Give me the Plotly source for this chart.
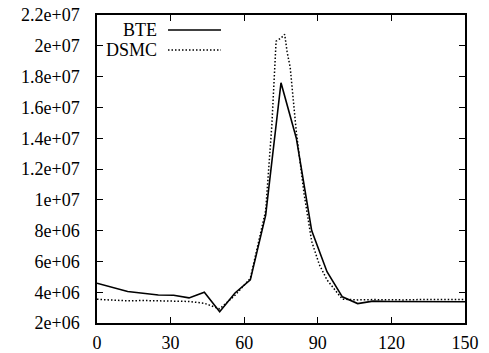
import plotly.graph_objects as go

# ---- data ----
bte_x = [0, 6.25, 12.5, 18.75, 25, 31.25, 37.5, 43.75, 50, 56.25, 62.5, 68.75, 75,
         81.25, 87.5, 93.75, 100, 106.25, 112.5, 118.75, 125, 131.25, 137.5, 143.75, 150]
bte_y = [4.58e6, 4.32e6, 4.05e6, 3.93e6, 3.82e6, 3.80e6, 3.63e6, 4.00e6, 2.73e6, 3.95e6,
         4.80e6, 9.0e6, 17.6e6, 14.0e6, 8.0e6, 5.33e6, 3.70e6, 3.26e6, 3.42e6, 3.40e6,
         3.39e6, 3.39e6, 3.38e6, 3.38e6, 3.38e6]

dsmc_x = [0, 6.25, 12.5, 18.75, 25, 31.25, 37.5, 43.75, 50, 56.25, 62.5, 68.75, 71.25,
          73, 75, 76.5, 77.5, 78.75, 81.25, 84.4, 87.5, 90.6, 93.75, 100, 106.25, 112.5,
          118.75, 125, 131.25, 137.5, 143.75, 150]
dsmc_y = [3.54e6, 3.50e6, 3.44e6, 3.46e6, 3.45e6, 3.44e6, 3.40e6, 3.28e6, 2.92e6, 3.80e6,
          4.90e6, 9.3e6, 14.8e6, 20.3e6, 20.5e6, 20.75e6, 19.6e6, 18.6e6, 14.4e6, 10.4e6,
          7.3e6, 5.8e6, 4.8e6, 3.55e6, 3.50e6, 3.52e6, 3.50e6, 3.50e6, 3.52e6, 3.50e6,
          3.52e6, 3.53e6]

x_ticks = [0, 30, 60, 90, 120, 150]
y_ticks = [2e6, 4e6, 6e6, 8e6, 1e7, 1.2e7, 1.4e7, 1.6e7, 1.8e7, 2e7, 2.2e7]
y_ticklabels = ["2e+06", "4e+06", "6e+06", "8e+06", "1e+07", "1.2e+07", "1.4e+07",
                "1.6e+07", "1.8e+07", "2e+07", "2.2e+07"]
series_names = ["BTE", "DSMC"]

FONT = "Liberation Serif"
FS = 18

fig = go.Figure()
fig.add_trace(go.Scatter(x=bte_x, y=bte_y, mode="lines", name=series_names[0],
                         line=dict(color="black", width=1.6), showlegend=False))
fig.add_trace(go.Scatter(x=dsmc_x, y=dsmc_y, mode="lines", name=series_names[1],
                         line=dict(color="black", width=1.5, dash="1.5px,2px"),
                         showlegend=False))

# gnuplot-style key: right-aligned text with sample line to its right
key_rows = [(series_names[0], "solid"), (series_names[1], "1.5px,2px")]
for i, (name, dash) in enumerate(key_rows):
    ypix = 30 + 20 * i  # centre of row in px from top
    yp = 1 - (ypix - 15) / 308
    fig.add_annotation(x=(156 - 97) / 368, y=yp, xref="paper", yref="paper",
                       text=name, showarrow=False, xanchor="right", yanchor="middle",
                       xshift=2, borderpad=0,
                       font=dict(family=FONT, size=FS, color="black"))
    fig.add_shape(type="line", xref="paper", yref="paper",
                  x0=(168 - 97) / 368, x1=(221 - 97) / 368, y0=yp, y1=yp,
                  line=dict(color="black", width=1.6 if dash == "solid" else 1.5,
                            dash=dash))

axis_common = dict(showgrid=False, zeroline=False, showline=True, linecolor="black",
                   linewidth=1.5, mirror="ticks", ticks="inside", ticklen=6,
                   tickwidth=1, tickcolor="black", automargin=False,
                   tickfont=dict(family=FONT, size=FS, color="black"))

fig.update_xaxes(range=[0, 150], tickvals=x_ticks, ticktext=[str(v) for v in x_ticks],
                 ticklabelstandoff=3, **axis_common)
fig.update_yaxes(range=[2e6, 2.2e7], tickvals=y_ticks, ticktext=y_ticklabels,
                 ticklabelstandoff=12, **axis_common)

fig.update_layout(width=489, height=353, margin=dict(l=97, r=24, t=15, b=30),
                  paper_bgcolor="white", plot_bgcolor="white")

fig.write_html("out.html")
